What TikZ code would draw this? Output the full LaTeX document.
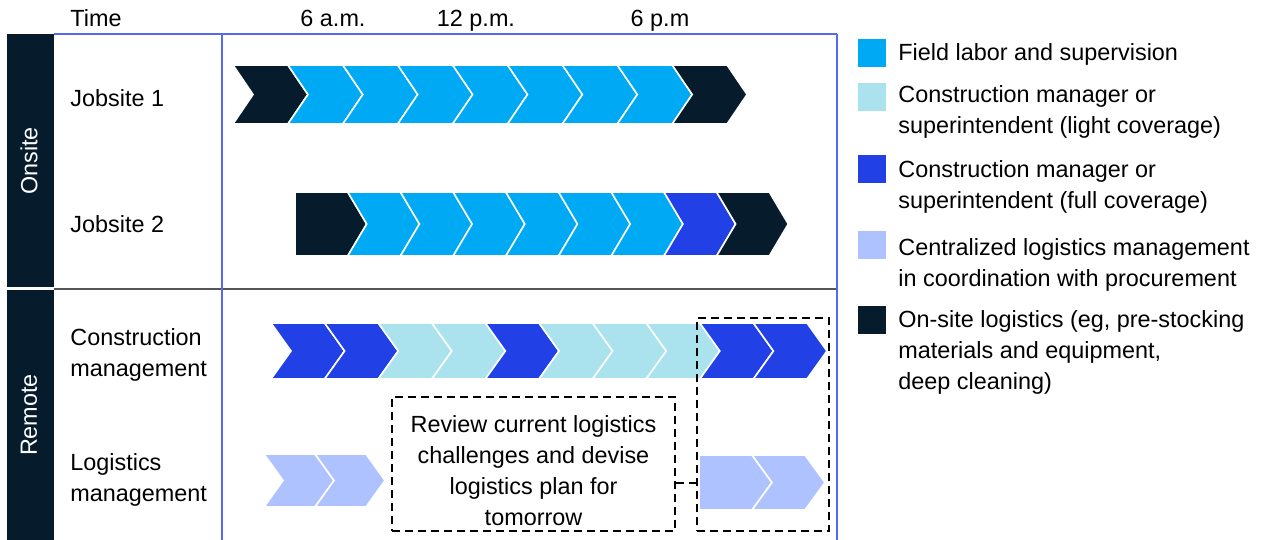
\documentclass[tikz,border=0pt]{standalone}
\usepackage{fontspec}
\setmainfont{Liberation Sans}
\usetikzlibrary{positioning}

\definecolor{navy}{HTML}{061C2C}
\definecolor{field}{HTML}{00A9F4}
\definecolor{light}{HTML}{AAE3EE}
\definecolor{full}{HTML}{2140E6}
\definecolor{central}{HTML}{AEC2FF}
\definecolor{gridblue}{HTML}{5468F0}
\definecolor{gridgray}{HTML}{555555}

\tikzset{
chev/.style = {draw=white, line width=0.8pt},
dashbox/.style = {draw=black, line width=0.75pt, dash pattern=on 4pt off 2.5pt},
rowlabel/.style = {anchor=north west, inner sep=0pt, align=left},
legsq/.style = {minimum size=14pt, inner sep=0pt, outer sep=0pt},
legtxt/.style = {anchor=north west, inner sep=0pt, align=left},
sidebar/.style = {text=white, rotate=90, inner sep=0pt},
hour/.style = {anchor=base, inner sep=0pt}
}
% x, top, width, height, tip, flat first (0/1), colours
\newcommand{\chevrow}[7]{%
  \foreach \c [count=\i from 0] in {#7} {
    \pgfmathsetmacro{\xl}{#1+\i*#3}
    \pgfmathsetmacro{\xn}{\xl+#5*(1-#6*(\i==0))}
    \filldraw[chev, fill=\c] (\xl,#2) -- ++(#3,0) -- ++(#5,#4/2) -- ++(-#5,#4/2)
      -- (\xl,#2+#4) -- (\xn,#2+#4/2) -- cycle;
  }}

\begin{document}
\begin{tikzpicture}[x=0.5pt, y=-0.5pt, font=\fontsize{11.7}{15.5}\selectfont]
    \useasboundingbox (0,0) rectangle (1274,540);

    % frame
    \fill[navy] (7,34) rectangle (54,287);
    \fill[navy] (7,290) rectangle (54,540);
    \draw[gridgray, line width=0.75pt] (54,289) -- (837,289);
    \draw[gridblue, line width=0.75pt] (54,34) -- (837,34);
    \draw[gridblue, line width=0.75pt] (222,34) -- (222,540);
    \draw[gridblue, line width=0.75pt] (837,34) -- (837,540);

    \node[sidebar] (onsite) at (29,161) {Onsite};
    \node[sidebar] (remote) at (29,415) {Remote};

    % header
    \node[hour, anchor=base west] (time) at (70,27) {Time};
    \node[hour] (am6) at (333,27) {6 a.m.};
    \node[hour] (pm12) at (476,27) {12 p.m.};
    \node[hour] (pm6) at (660,27) {6 p.m};

    % rows
    \node[rowlabel] (job1) at (70,89) {Jobsite 1};
    \node[rowlabel] (job2) at (70,215) {Jobsite 2};
    \node[rowlabel] (cm) at (70,328) {Construction\\management};
    \node[rowlabel] (lm) at (70,453) {Logistics\\management};

    \chevrow{233}{65}{54.9}{59}{20}{0}{navy,field,field,field,field,field,field,field,navy}
    \chevrow{295}{192}{52.7}{64}{19}{1}{navy,field,field,field,field,field,field,full,navy}
    \chevrow{271}{323}{53.6}{56}{20}{0}{full,full,light,light,full,light,light,light,full,full}
    \chevrow{264}{454}{51}{53}{19}{0}{central,central}
    \chevrow{699}{455}{53}{55}{20}{1}{central,central}

    % planning boxes
    \node[dashbox, minimum width=141.5pt, minimum height=67pt] (review) at (533.5,464) {};
    \node[align=center, inner sep=0pt] (reviewtxt) at (533.5,471)
        {Review current logistics\\challenges and devise\\logistics plan for\\tomorrow};
    \node[dashbox, minimum width=66pt, minimum height=106.5pt] (rbox) at (763,424.5) {};
    \coordinate (logmid) at (0,483);
    \draw[dashbox] (review.east |- logmid) -- (rbox.west |- logmid);

    % legend
    \node[legsq, fill=field] (kfield) at (872,53) {};
    \node[legsq, fill=light] (klight) at (872,97) {};
    \node[legsq, fill=full] (kfull) at (872,169) {};
    \node[legsq, fill=central] (kcentral) at (872,244.5) {};
    \node[legsq, fill=navy] (knavy) at (872,320) {};

    \node[legtxt] (tfield) at (898,43) {Field labor and supervision};
    \node[legtxt] (tlight) at (898,85) {Construction manager or\\superintendent (light coverage)};
    \node[legtxt] (tfull) at (898,160) {Construction manager or\\superintendent (full coverage)};
    \node[legtxt] (tcentral) at (898,238) {Centralized logistics management\\in coordination with procurement};
    \node[legtxt] (tnavy) at (898,310) {On-site logistics (eg, pre-stocking\\materials and equipment,\\deep cleaning)};
\end{tikzpicture}
\end{document}
